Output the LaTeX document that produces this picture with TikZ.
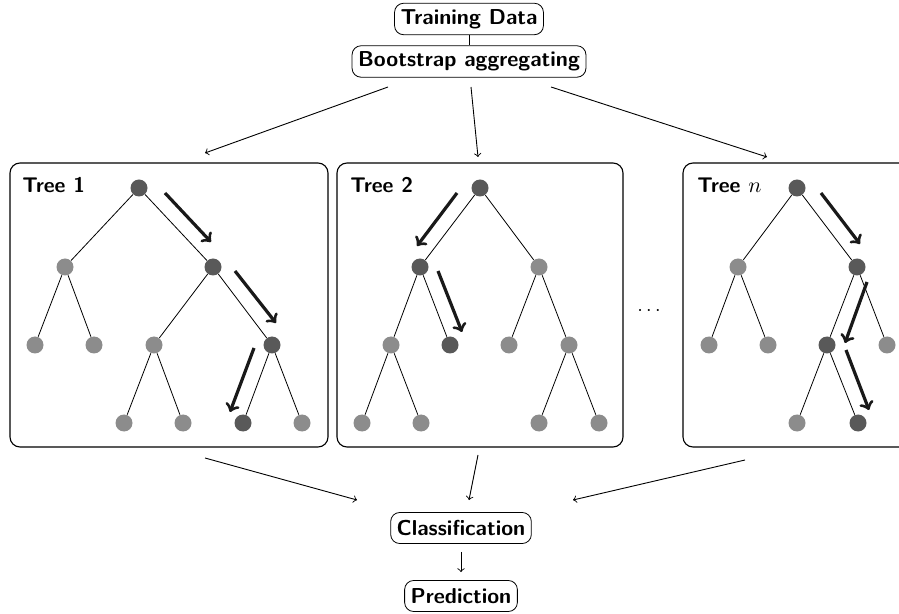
\documentclass[tikz,border=0pt]{standalone}
\begin{document}
\begin{tikzpicture}[x=0.5pt,y=-0.5pt,
  box/.style={draw, rounded corners=4.5pt, font=\fontsize{10.8}{13}\sffamily\bfseries, inner sep=3pt, minimum height=15.5pt},
  dk/.style={circle, fill=black!65, minimum size=8.5pt, inner sep=0pt},
  lt/.style={circle, fill=black!45, minimum size=8.5pt, inner sep=0pt},
  pathar/.style={->, line width=1.6pt, black!90},
  frame/.style={draw, rounded corners=5pt, line width=0.55pt, inner sep=0pt},
  flow/.style={->, line width=0.45pt},
  lbl/.style={anchor=west, inner sep=0pt, font=\fontsize{10.6}{13}\sffamily\bfseries}
]
\useasboundingbox (0,0) rectangle (899,614);
\clip (0,0) rectangle (899,614);

% top
\node[box] (td) at (469,19) {Training Data};
\node[box] (boot) at (469,61.5) {Bootstrap aggregating};
\draw (td.south) -- (boot.north);

% frames
\node[frame, minimum width=159pt, minimum height=142pt] (f1) at (169,305) {};
\node[frame, minimum width=143pt, minimum height=142pt] (f2) at (480,305) {};
\node[frame, minimum width=140pt, minimum height=142pt] (fn) at (823,305) {};

\node[lbl] (l1) at (22,185) {Tree 1};
\node[lbl] (l2) at (350,185) {Tree 2};
\node[lbl] (ln) at (697,185) {Tree $n$};
\node (dots) at (649,311) {$\cdots$};

% arrows from bootstrap
\coordinate (b1) at (388,87); \coordinate (e1) at (205,153);
\coordinate (b2) at (471,87); \coordinate (e2) at (478,157);
\coordinate (b3) at (551,87); \coordinate (e3) at (767,157);
\draw[flow] (b1) -- (e1);
\draw[flow] (b2) -- (e2);
\draw[flow] (b3) -- (e3);

% Tree 1
\node[dk] (a0) at (139,188) {};
\node[lt] (a1) at (65,267) {};
\node[dk] (a2) at (213,267) {};
\node[lt] (a3) at (35,345) {};
\node[lt] (a4) at (94,345) {};
\node[lt] (a5) at (154,345) {};
\node[dk] (a6) at (272,345) {};
\node[lt] (a7) at (124,423) {};
\node[lt] (a8) at (183,423) {};
\node[dk] (a9) at (243,423) {};
\node[lt] (a10) at (302,423) {};
\draw (a0) -- (a1); \draw (a0) -- (a2);
\draw (a1) -- (a3); \draw (a1) -- (a4);
\draw (a2) -- (a5); \draw (a2) -- (a6);
\draw (a5) -- (a7); \draw (a5) -- (a8);
\draw (a6) -- (a9); \draw (a6) -- (a10);
\coordinate (p1s) at (165,193); \coordinate (p1e) at (211,242);
\coordinate (p2s) at (235,271); \coordinate (p2e) at (276,323);
\coordinate (p3s) at (254,348); \coordinate (p3e) at (230,412);
\draw[pathar] (p1s) -- (p1e);
\draw[pathar] (p2s) -- (p2e);
\draw[pathar] (p3s) -- (p3e);

% Tree 2
\node[dk] (c0) at (480,188) {};
\node[dk] (c1) at (420,267) {};
\node[lt] (c2) at (539,267) {};
\node[lt] (c3) at (391,345) {};
\node[dk] (c4) at (450,345) {};
\node[lt] (c5) at (509,345) {};
\node[lt] (c6) at (569,345) {};
\node[lt] (c7) at (362,423) {};
\node[lt] (c8) at (421,423) {};
\node[lt] (c9) at (539,423) {};
\node[lt] (c10) at (599,423) {};
\draw (c0) -- (c1); \draw (c0) -- (c2);
\draw (c1) -- (c3); \draw (c1) -- (c4);
\draw (c2) -- (c5); \draw (c2) -- (c6);
\draw (c3) -- (c7); \draw (c3) -- (c8);
\draw (c6) -- (c9); \draw (c6) -- (c10);
\coordinate (q1s) at (457,193); \coordinate (q1e) at (417,246);
\coordinate (q2s) at (438,271); \coordinate (q2e) at (462,332);
\draw[pathar] (q1s) -- (q1e);
\draw[pathar] (q2s) -- (q2e);

% Tree n
\node[dk] (n0) at (797,188) {};
\node[lt] (n1) at (738,267) {};
\node[dk] (n2) at (857,267) {};
\node[lt] (n3) at (709,345) {};
\node[lt] (n4) at (768,345) {};
\node[dk] (n5) at (827,345) {};
\node[lt] (n6) at (887,345) {};
\node[lt] (n7) at (797,423) {};
\node[dk] (n8) at (858,423) {};
\draw (n0) -- (n1); \draw (n0) -- (n2);
\draw (n1) -- (n3); \draw (n1) -- (n4);
\draw (n2) -- (n5); \draw (n2) -- (n6);
\draw (n5) -- (n7); \draw (n5) -- (n8);
\coordinate (r1s) at (821,193); \coordinate (r1e) at (860,244);
\coordinate (r2s) at (867,282); \coordinate (r2e) at (845,343);
\coordinate (r3s) at (846,350); \coordinate (r3e) at (869,410);
\draw[pathar] (r1s) -- (r1e);
\draw[pathar] (r2s) -- (r2e);
\draw[pathar] (r3s) -- (r3e);

% bottom
\node[box] (cls) at (461,528) {Classification};
\node[box] (pred) at (461,596) {Prediction};
\coordinate (d1) at (205,458); \coordinate (g1) at (357,500);
\coordinate (d2) at (478,455); \coordinate (g2) at (469,500);
\coordinate (d3) at (745,460); \coordinate (g3) at (573,500);
\draw[flow] (d1) -- (g1);
\draw[flow] (d2) -- (g2);
\draw[flow] (d3) -- (g3);
\draw[flow, shorten <=4pt, shorten >=4pt] (cls.south) -- (pred.north);
\end{tikzpicture}
\end{document}
